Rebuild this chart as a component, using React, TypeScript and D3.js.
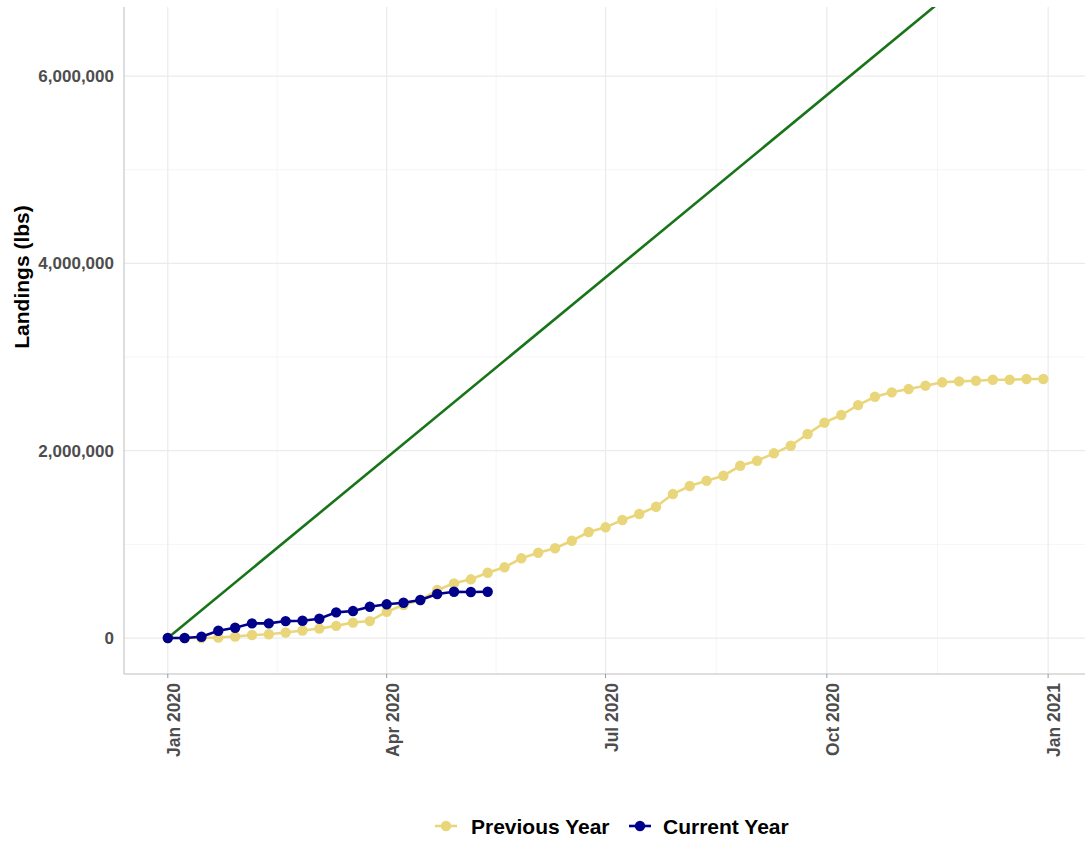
import React from "react";
import * as d3 from "d3";

const seriesNames = ["Previous Year", "Current Year"];
const seriesColors = ["#EAD67A", "#00008B"];
const targetColor = "#187418";

const startDate = "2020-01-01";
// weekly cumulative landings (lbs)
const previousYear = [
  0, 0, 0, 5000, 16000, 32000, 40000, 59000, 80000, 101000, 130000, 165000, 181000,
  281000, 352000, 406000, 512000, 584000, 627000, 697000, 755000, 851000, 911000,
  958000, 1039000, 1132000, 1182000, 1260000, 1324000, 1402000, 1537000, 1623000,
  1679000, 1733000, 1839000, 1893000, 1972000, 2053000, 2178000, 2299000, 2381000,
  2487000, 2576000, 2623000, 2658000, 2694000, 2730000, 2740000, 2747000, 2758000,
  2758000, 2765000, 2765000,
];
const currentYear = [
  0, 0, 14000, 78000, 110000, 157000, 157000, 181000, 185000, 206000, 274000, 288000,
  334000, 360000, 377000, 406000, 470000, 494000, 491000, 494000,
];
const targetDates = ["2020-01-01", "2020-12-30"];
const targetValues = [0, 7700000];

const yTicks = [0, 2000000, 4000000, 6000000];
const yMinor = [1000000, 3000000, 5000000];
const xTickDates = ["2020-01-01", "2020-04-01", "2020-07-01", "2020-10-01", "2021-01-01"];
const xTickLabels = ["Jan 2020", "Apr 2020", "Jul 2020", "Oct 2020", "Jan 2021"];

const W = 1085;
const H = 842;
const panel = { left: 124, right: 1087, top: 7, bottom: 674 };

export default function App() {
  const start = new Date(startDate + "T00:00:00Z");
  const weekly = (vals: number[]) =>
    vals.map((v, i) => ({ date: d3.utcDay.offset(start, 7 * i), value: v }));
  const prev = weekly(previousYear);
  const curr = weekly(currentYear);
  const target = targetDates.map((d, i) => ({ date: new Date(d + "T00:00:00Z"), value: targetValues[i] }));

  const x = d3
    .scaleUtc()
    .domain([d3.utcHour.offset(start, -18.2 * 24), d3.utcHour.offset(start, 382.2 * 24)])
    .range([panel.left, panel.right]);
  const y = d3.scaleLinear().domain([-384000, 6737000]).range([panel.bottom, panel.top]);

  const line = d3
    .line<{ date: Date; value: number }>()
    .x((d) => x(d.date))
    .y((d) => y(d.value));

  const tickDates = xTickDates.map((d) => new Date(d + "T00:00:00Z"));
  const minorDates = tickDates.slice(0, -1).map((d, i) => new Date((d.getTime() + tickDates[i + 1].getTime()) / 2));

  const fmt = d3.format(",");
  const font = "'Liberation Sans', Arial, sans-serif";

  const legendY = 826;
  const legendItems = [
    { name: seriesNames[0], color: seriesColors[0], keyX: 446, textX: 471 },
    { name: seriesNames[1], color: seriesColors[1], keyX: 640, textX: 663 },
  ];

  return (
    <svg width={W} height={H} style={{ position: "absolute", left: 0, top: 0, background: "#fff" }} fontFamily={font}>
      <defs>
        <clipPath id="panel">
          <rect x={panel.left} y={panel.top} width={panel.right - panel.left} height={panel.bottom - panel.top} />
        </clipPath>
      </defs>
      {/* grid */}
      {yMinor.map((v) => (
        <line key={"ym" + v} x1={panel.left} x2={panel.right} y1={y(v)} y2={y(v)} stroke="#F2F2F2" strokeWidth={0.8} />
      ))}
      {minorDates.map((d, i) => (
        <line key={"xm" + i} x1={x(d)} x2={x(d)} y1={panel.top} y2={panel.bottom} stroke="#F2F2F2" strokeWidth={0.8} />
      ))}
      {yTicks.map((v) => (
        <line key={"yg" + v} x1={panel.left} x2={panel.right} y1={y(v)} y2={y(v)} stroke="#EBEBEB" strokeWidth={1.2} />
      ))}
      {tickDates.map((d, i) => (
        <line key={"xg" + i} x1={x(d)} x2={x(d)} y1={panel.top} y2={panel.bottom} stroke="#EBEBEB" strokeWidth={1.2} />
      ))}
      {/* axis lines */}
      <line x1={panel.left} x2={panel.left} y1={panel.top} y2={panel.bottom} stroke="#C8C8C8" strokeWidth={1.2} />
      <line x1={panel.left} x2={panel.right} y1={panel.bottom} y2={panel.bottom} stroke="#BEBEBE" strokeWidth={1.2} />
      {tickDates.map((d, i) => (
        <line key={"xt" + i} x1={x(d)} x2={x(d)} y1={panel.bottom} y2={panel.bottom + 4} stroke="#999" strokeWidth={1} />
      ))}
      {/* data */}
      <g clipPath="url(#panel)">
        <path d={line(target) || ""} fill="none" stroke={targetColor} strokeWidth={2.6} />
        <path d={line(prev) || ""} fill="none" stroke={seriesColors[0]} strokeWidth={2.6} />
        {prev.map((p, i) => (
          <circle key={"p" + i} cx={x(p.date)} cy={y(p.value)} r={5.2} fill={seriesColors[0]} />
        ))}
        <path d={line(curr) || ""} fill="none" stroke={seriesColors[1]} strokeWidth={2.6} />
        {curr.map((p, i) => (
          <circle key={"c" + i} cx={x(p.date)} cy={y(p.value)} r={5.2} fill={seriesColors[1]} />
        ))}
      </g>
      {/* y tick labels */}
      {yTicks.map((v) => (
        <text key={"yl" + v} x={114} y={y(v)} dy="0.36em" textAnchor="end" fontSize={17} fontWeight="bold" fill="#4D4D4D">
          {fmt(v)}
        </text>
      ))}
      {/* x tick labels */}
      {tickDates.map((d, i) => (
        <text
          key={"xl" + i}
          transform={`translate(${x(d) + 6},${panel.bottom + 9}) rotate(-90)`}
          dy="0.36em"
          textAnchor="end"
          fontSize={17.5}
          fontWeight="bold"
          fill="#4D4D4D"
        >
          {xTickLabels[i]}
        </text>
      ))}
      {/* y axis title */}
      <text transform={`translate(21,277) rotate(-90)`} dy="0.36em" textAnchor="middle" fontSize={21} fontWeight="bold" fill="#000">
        Landings (lbs)
      </text>
      {/* legend */}
      {legendItems.map((it) => (
        <g key={it.name}>
          <line x1={it.keyX - 11} x2={it.keyX + 11} y1={legendY} y2={legendY} stroke={it.color} strokeWidth={2.6} />
          <circle cx={it.keyX} cy={legendY} r={5.2} fill={it.color} />
          <text x={it.textX} y={legendY} dy="0.36em" fontSize={21} fontWeight="bold" fill="#000">
            {it.name}
          </text>
        </g>
      ))}
    </svg>
  );
}
